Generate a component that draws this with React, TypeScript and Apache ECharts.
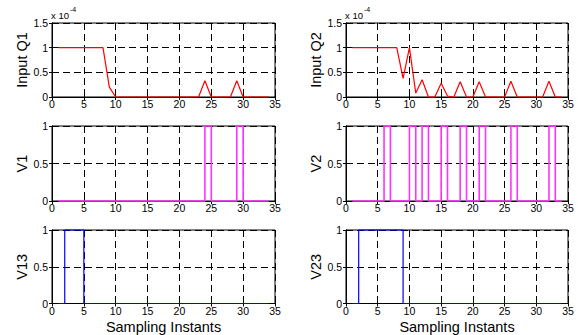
import React, { useEffect, useRef } from "react";
import * as echarts from "echarts";

const samples = [1, 2, 3, 4, 5, 6, 7, 8, 9, 10, 11, 12, 13, 14, 15, 16, 17, 18, 19, 20, 21, 22, 23, 24, 25, 26, 27, 28, 29, 30, 31, 32, 33, 34];
const inputQ1 = [1, 1, 1, 1, 1, 1, 1, 1, 0.2, 0, 0, 0, 0, 0, 0, 0, 0, 0, 0, 0, 0, 0, 0, 0.33, 0, 0, 0, 0, 0.33, 0, 0, 0, 0, 0];
const inputQ2 = [1, 1, 1, 1, 1, 1, 1, 1, 0.38, 1, 0.08, 0.35, 0, 0, 0.28, 0.02, 0, 0.31, 0, 0, 0.31, 0, 0, 0, 0, 0.32, 0, 0, 0, 0, 0, 0.32, 0, 0];
const v1 = [0, 0, 0, 0, 0, 0, 0, 0, 0, 0, 0, 0, 0, 0, 0, 0, 0, 0, 0, 0, 0, 0, 0, 1, 0, 0, 0, 0, 1, 0, 0, 0, 0, 0];
const v2 = [0, 0, 0, 0, 0, 1, 0, 0, 0, 1, 0, 1, 0, 0, 1, 0, 0, 1, 0, 0, 1, 0, 0, 0, 0, 1, 0, 0, 0, 0, 0, 1, 0, 0];
const v13 = [0, 1, 1, 1, 0, 0, 0, 0, 0, 0, 0, 0, 0, 0, 0, 0, 0, 0, 0, 0, 0, 0, 0, 0, 0, 0, 0, 0, 0, 0, 0, 0, 0, 0];
const v23 = [0, 1, 1, 1, 1, 1, 1, 1, 0, 0, 0, 0, 0, 0, 0, 0, 0, 0, 0, 0, 0, 0, 0, 0, 0, 0, 0, 0, 0, 0, 0, 0, 0, 0];

const yNames = ["Input Q1", "Input Q2", "V1", "V2", "V13", "V23"];
const xName = "Sampling Instants";
const xTicks = { min: 0, max: 35, interval: 5 };
const yTopTicks = { min: 0, max: 1.5, interval: 0.5 };
const yTicks = { min: 0, max: 1, interval: 0.5 };
const multiplierText = "x 10";
const multiplierExp = "-4";

const FONT = "'Liberation Sans', Arial, Helvetica, sans-serif";

const panels = [
  { data: inputQ1, color: "#ff0000", step: false, width: 1.2, yr: yTopTicks },
  { data: inputQ2, color: "#ff0000", step: false, width: 1.2, yr: yTopTicks },
  { data: v1, color: "#ff33ff", step: "end", width: 1.6, yr: yTicks },
  { data: v2, color: "#ff33ff", step: "end", width: 1.6, yr: yTicks },
  { data: v13, color: "#0000ff", step: "end", width: 1.2, yr: yTicks },
  { data: v23, color: "#0000ff", step: "end", width: 1.2, yr: yTicks },
];

const rects = [
  { left: 52, top: 23, width: 223, height: 74 },
  { left: 346, top: 23, width: 222, height: 74 },
  { left: 52, top: 126, width: 223, height: 75 },
  { left: 346, top: 126, width: 222, height: 75 },
  { left: 52, top: 230, width: 223, height: 75 },
  { left: 346, top: 230, width: 222, height: 75 },
];

export default function App() {
  const ref = useRef<HTMLDivElement>(null);
  useEffect(() => {
    if (!ref.current) return;
    const chart = echarts.init(ref.current, undefined, { renderer: "svg" });
    const grid: any[] = [];
    const xAxis: any[] = [];
    const yAxis: any[] = [];
    const series: any[] = [];
    const dash = { color: "#000", type: [7, 4], width: 1 };
    panels.forEach((p, i) => {
      grid.push({ ...rects[i], show: true, borderColor: "#000", borderWidth: 1, backgroundColor: "transparent" });
      const isBottom = i >= 4;
      xAxis.push({
        type: "value", gridIndex: i, ...xTicks, position: "bottom",
        name: isBottom ? xName : "", nameLocation: "middle", nameGap: 16, nameMoveOverlap: false,
        nameTextStyle: { fontFamily: FONT, fontSize: 14.5, lineHeight: 14, color: "#000" },
        axisLine: { show: true, lineStyle: { color: "#000", width: 1 } },
        axisTick: { show: true, inside: true, length: 3, lineStyle: { color: "#000" } },
        axisLabel: { fontFamily: FONT, fontSize: 10.5, lineHeight: 10, color: "#000", margin: 2 },
        splitLine: { show: true, lineStyle: dash },
      });
      xAxis.push({
        type: "value", gridIndex: i, ...xTicks, position: "top",
        axisLine: { show: true, lineStyle: { color: "#000", width: 1 } },
        axisTick: { show: true, inside: true, length: 3, lineStyle: { color: "#000" } },
        axisLabel: { show: false }, splitLine: { show: false },
      });
      yAxis.push({
        type: "value", gridIndex: i, ...p.yr, position: "left",
        name: yNames[i], nameLocation: "middle", nameGap: 23, nameRotate: 90, nameMoveOverlap: false,
        nameTextStyle: { fontFamily: FONT, fontSize: 14.5, color: "#000" },
        axisLine: { show: true, lineStyle: { color: "#000", width: 1 } },
        axisTick: { show: true, inside: true, length: 3, lineStyle: { color: "#000" } },
        axisLabel: { fontFamily: FONT, fontSize: 10.5, color: "#000", margin: 4 },
        splitLine: { show: true, lineStyle: dash },
      });
      yAxis.push({
        type: "value", gridIndex: i, ...p.yr, position: "right",
        axisLine: { show: true, lineStyle: { color: "#000", width: 1 } },
        axisTick: { show: true, inside: true, length: 3, lineStyle: { color: "#000" } },
        axisLabel: { show: false }, splitLine: { show: false },
      });
      series.push({
        type: "line", xAxisIndex: i * 2, yAxisIndex: i * 2,
        data: samples.map((x, k) => [x, p.data[k]]),
        step: p.step || undefined, showSymbol: false, clip: false,
        lineStyle: { color: p.color, width: p.width }, z: 3,
      });
    });
    const graphic: any[] = [];
    [0, 1].forEach((c) => {
      const x0 = rects[c].left;
      graphic.push({ type: "text", left: x0 - 1, top: 10, style: { text: multiplierText, font: `9.5px ${FONT}`, fill: "#000" } });
      graphic.push({ type: "text", left: x0 + 18, top: 6, style: { text: multiplierExp, font: `7px ${FONT}`, fill: "#000" } });
    });
    chart.setOption({ animation: false, backgroundColor: "#fff", grid, xAxis, yAxis, series, graphic });
    return () => chart.dispose();
  }, []);
  return <div ref={ref} style={{ position: "fixed", left: 0, top: 0, width: 578, height: 335 }} />;
}
